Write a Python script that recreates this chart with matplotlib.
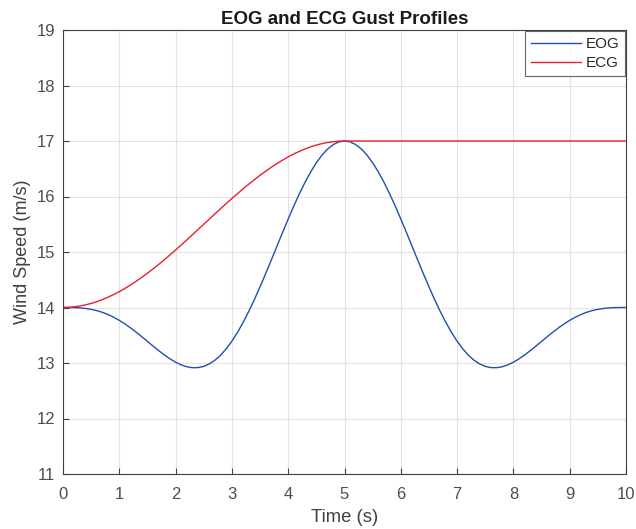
import matplotlib
matplotlib.use("Agg")
import matplotlib.pyplot as plt
import numpy as np

# Time samples (s), every 0.1 s
time_s = np.linspace(0.0, 10.0, 101)

# Extreme operating gust wind speed (m/s)
eog_speed = [14.000, 14.000, 13.998, 13.993, 13.983, 13.967, 13.944, 13.913, 13.873, 13.825,
             13.768, 13.704, 13.632, 13.555, 13.473, 13.389, 13.305, 13.223, 13.145, 13.075,
             13.014, 12.966, 12.932, 12.915, 12.917, 12.939, 12.984, 13.051, 13.142, 13.256,
             13.393, 13.552, 13.732, 13.930, 14.145, 14.373, 14.611, 14.856, 15.104, 15.352,
             15.595, 15.830, 16.052, 16.258, 16.444, 16.608, 16.746, 16.855, 16.935, 16.984,
             17.000,
             16.984, 16.935, 16.855, 16.746, 16.608, 16.444, 16.258, 16.052, 15.830, 15.595,
             15.352, 15.104, 14.856, 14.611, 14.373, 14.145, 13.930, 13.732, 13.552, 13.393,
             13.256, 13.142, 13.051, 12.984, 12.939, 12.917, 12.915, 12.932, 12.966, 13.014,
             13.075, 13.145, 13.223, 13.305, 13.389, 13.473, 13.555, 13.632, 13.704, 13.768,
             13.825, 13.873, 13.913, 13.944, 13.967, 13.983, 13.993, 13.998, 14.000, 14.000]

# Extreme coherent gust wind speed (m/s)
ecg_speed = [14.000, 14.003, 14.012, 14.027, 14.047, 14.073, 14.105, 14.143, 14.186, 14.234,
             14.286, 14.344, 14.407, 14.473, 14.544, 14.618, 14.696, 14.777, 14.861, 14.948,
             15.036, 15.127, 15.219, 15.312, 15.406, 15.500, 15.594, 15.688, 15.781, 15.873,
             15.964, 16.052, 16.139, 16.223, 16.304, 16.382, 16.456, 16.527, 16.593, 16.656,
             16.714, 16.767, 16.814, 16.857, 16.895, 16.927, 16.953, 16.973, 16.988, 16.997,
             17.000,
             17.000, 17.000, 17.000, 17.000, 17.000, 17.000, 17.000, 17.000, 17.000, 17.000,
             17.000, 17.000, 17.000, 17.000, 17.000, 17.000, 17.000, 17.000, 17.000, 17.000,
             17.000, 17.000, 17.000, 17.000, 17.000, 17.000, 17.000, 17.000, 17.000, 17.000,
             17.000, 17.000, 17.000, 17.000, 17.000, 17.000, 17.000, 17.000, 17.000, 17.000,
             17.000, 17.000, 17.000, 17.000, 17.000, 17.000, 17.000, 17.000, 17.000, 17.000]

x_ticks = [0, 1, 2, 3, 4, 5, 6, 7, 8, 9, 10]
y_ticks = [11, 12, 13, 14, 15, 16, 17, 18, 19]

plt.rcParams['font.family'] = ['Liberation Sans', 'DejaVu Sans']

fig = plt.figure(figsize=(6.36, 5.29), dpi=100)
ax = fig.add_axes([63 / 636, 55 / 529, (626 - 63) / 636, (474 - 30) / 529])

ax.plot(time_s, eog_speed, color='#1f4fb0', lw=1.0, label='EOG')
ax.plot(time_s, ecg_speed, color='#e8202a', lw=1.0, label='ECG')

ax.set_xlim(0, 10)
ax.set_ylim(11, 19)
ax.set_xticks(x_ticks)
ax.set_yticks(y_ticks)
ax.grid(True, color='#e3e3e3', lw=0.8)
ax.set_axisbelow(True)

for s in ax.spines.values():
    s.set_color('#404040')
    s.set_linewidth(0.8)
ax.tick_params(direction='in', length=4, width=0.8, colors='#404040',
               labelcolor='#4d4d4d', labelsize=12, top=False, right=False)
ax.tick_params(axis='x', pad=9.5)
ax.tick_params(axis='y', pad=5.5)

ax.set_xlabel('Time (s)', fontsize=13.3, color='#404040', labelpad=5)
ax.set_ylabel('Wind Speed (m/s)', fontsize=13, color='#404040', labelpad=4)
ax.set_title('EOG and ECG Gust Profiles', fontsize=13.5, fontweight='bold',
             color='#1a1a1a', pad=4.5)

leg = ax.legend(loc='upper right', fontsize=11, frameon=True, fancybox=False,
                borderaxespad=0.05, handlelength=3.3, handletextpad=0.26,
                labelspacing=0.35, borderpad=0.4)
leg.get_frame().set_edgecolor('#404040')
leg.get_frame().set_linewidth(0.8)
for t in leg.get_texts():
    t.set_color('#262626')

fig.savefig('out.png', dpi=100)
